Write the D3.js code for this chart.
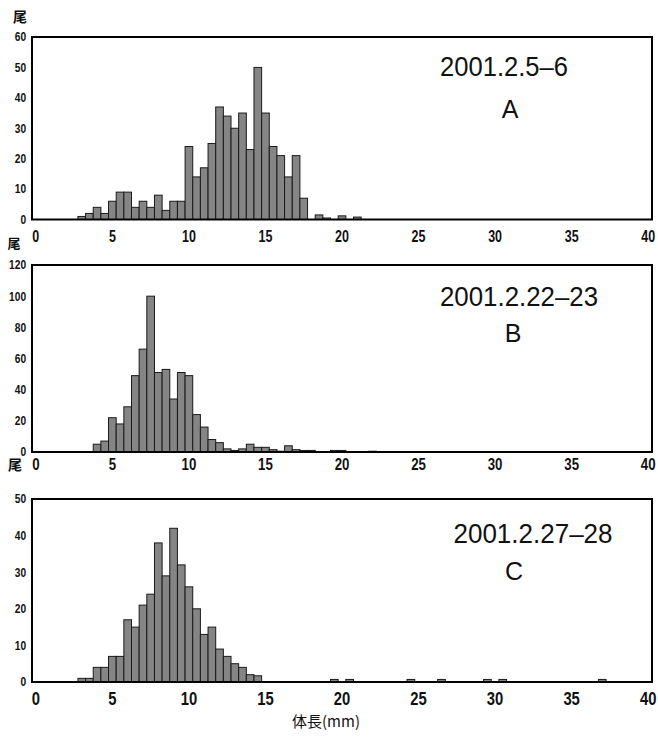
<!DOCTYPE html>
<html>
<head>
<meta charset="utf-8">
<script src="https://cdn.jsdelivr.net/npm/d3@7"></script>
<style>
  html, body { margin: 0; padding: 0; background: #fff; }
  svg { display: block; }
  .tick text { font-family: "Liberation Sans", Arial, sans-serif; font-weight: bold; fill: #111; }
  .title { font-family: "Liberation Sans", "DejaVu Sans Condensed", sans-serif; fill: #111; }
  .cjk { font-family: "Noto Sans CJK JP", "Noto Sans CJK SC", sans-serif; fill: #111; }
</style>
</head>
<body>
<svg id="chart" width="658" height="738"></svg>
<script>
// Body-length classes (mm), 0.5 mm steps
const lengths = [0,0.5,1,1.5,2,2.5,3,3.5,4,4.5,5,5.5,6,6.5,7,7.5,8,8.5,9,9.5,
  10,10.5,11,11.5,12,12.5,13,13.5,14,14.5,15,15.5,16,16.5,17,17.5,18,18.5,19,19.5,
  20,20.5,21,21.5,22,22.5,23,23.5,24,24.5,25,25.5,26,26.5,27,27.5,28,28.5,29,29.5,
  30,30.5,31,31.5,32,32.5,33,33.5,34,34.5,35,35.5,36,36.5,37,37.5,38,38.5,39,39.5,40];

// Panel A: 2001.2.5-6
const countsA = [0,0,0,0,0,0,1,2,4,2,
  6,9,9,4,6,4,8,3,6,6,
  24,14,17,25,37,34,30,35,23,50,
  35,24,21,14,21,7,0,1.5,0.5,0,
  1.2,0,0.8,0,0,0,0,0,0,0,
  0,0,0,0,0,0,0,0,0,0,
  0,0,0,0,0,0,0,0,0,0,
  0,0,0,0,0,0,0,0,0,0,0];

// Panel B: 2001.2.22-23
const countsB = [0,0,0,0,0,0,0,0,5,7,
  22,18,29,49,66,100,51,53,34,51,
  49,24,16,8,6,2,1,2,5,3,
  3,1.5,0.5,4,1.5,1,1,0,0,1,
  1,0,0,0,0.5,0,0,0,0,0,
  0,0,0,0,0,0,0,0,0,0,
  0,0,0,0,0,0,0,0,0,0,
  0,0,0,0,0,0,0,0,0,0,0];

// Panel C: 2001.2.27-28
const countsC = [0,0,0,0,0,0,1,1,4,4,
  7,7,17,15,21,24,38,29,42,32,
  26,20,13,15,9,7,5,4,2,1.7,
  0,0,0,0,0,0,0,0,0,0.7,
  0,0.7,0,0,0,0,0,0,0,0.7,
  0,0,0,0.7,0,0,0,0,0,0.7,
  0,0.7,0,0,0,0,0,0,0,0,
  0,0,0,0,0.7,0,0,0,0,0,0];

const xTickLabels = [0,5,10,15,20,25,30,35,40];
const yTicksA = [0,10,20,30,40,50,60];
const yTicksB = [0,20,40,60,80,100,120];
const yTicksC = [0,10,20,30,40,50];
const titles = ["2001.2.5–6", "2001.2.22–23", "2001.2.27–28"];
const letters = ["A", "B", "C"];
const yUnit = "尾";
const xAxisTitle = "体長(mm)";

const svg = d3.select("#chart");

const panels = [
  { counts: countsA, yTicks: yTicksA, ymax: 60, top: 37, bottom: 219.5, xPad: 11, xFont: 16, yFont: 12,
    title: titles[0], letter: letters[0], tX: 504, tY: 76, tLen: 128, lX: 510, lY: 118,
    unitX: 20, unitY: 22, unitSize: 14 },
  { counts: countsB, yTicks: yTicksB, ymax: 120, top: 265, bottom: 452, xPad: 6, xFont: 17, yFont: 12,
    title: titles[1], letter: letters[1], tX: 519, tY: 306, tLen: 158, lX: 513, lY: 342,
    unitX: 14, unitY: 248, unitSize: 13 },
  { counts: countsC, yTicks: yTicksC, ymax: 50, top: 499, bottom: 682, xPad: 10, xFont: 19, yFont: 12,
    title: titles[2], letter: letters[2], tX: 533, tY: 543, tLen: 159, lX: 514, lY: 580,
    unitX: 15, unitY: 470, unitSize: 14 }
];

const left = 32, right = 652;

const x = d3.scaleBand().domain(lengths).range([left, right]).paddingInner(0).paddingOuter(0);

panels.forEach(p => {
  const y = d3.scaleLinear().domain([0, p.ymax]).range([p.bottom, p.top]);
  const g = svg.append("g");

  // bars
  g.append("g").selectAll("rect")
    .data(lengths.map((l, i) => ({ l, v: p.counts[i] })).filter(d => d.v > 0))
    .join("rect")
    .attr("x", d => x(d.l))
    .attr("width", x.bandwidth())
    .attr("y", d => y(d.v))
    .attr("height", d => y(0) - y(d.v))
    .attr("fill", "#858585")
    .attr("stroke", "#1a1a1a")
    .attr("stroke-width", 1);

  // frame
  g.append("rect")
    .attr("x", left).attr("y", p.top)
    .attr("width", right - left).attr("height", p.bottom - p.top)
    .attr("fill", "none").attr("stroke", "#000").attr("stroke-width", 2);

  // x axis
  const xa = g.append("g")
    .attr("transform", `translate(0,${p.bottom})`)
    .call(d3.axisBottom(x).tickValues(xTickLabels).tickSize(0).tickPadding(p.xPad).tickFormat(d3.format("d")));
  xa.select(".domain").remove();
  xa.selectAll("text").style("font-size", p.xFont + "px").attr("transform", "scale(0.78,1)");

  // y axis
  const ya = g.append("g")
    .attr("transform", `translate(${left},0)`)
    .call(d3.axisLeft(y).tickValues(p.yTicks).tickSize(0).tickPadding(7).tickFormat(d3.format("d")));
  ya.select(".domain").remove();
  ya.selectAll("text").style("font-size", p.yFont + "px").attr("transform", "scale(0.85,1)");

  // unit
  g.append("text").attr("class", "cjk")
    .attr("x", p.unitX).attr("y", p.unitY)
    .attr("text-anchor", "middle")
    .style("font-size", p.unitSize + "px").style("font-weight", "bold")
    .text(yUnit);

  // titles
  g.append("text").attr("class", "title")
    .attr("x", p.tX).attr("y", p.tY)
    .attr("text-anchor", "middle")
    .attr("textLength", p.tLen).attr("lengthAdjust", "spacingAndGlyphs")
    .style("font-size", "28px")
    .text(p.title);
  g.append("text").attr("class", "title")
    .attr("x", p.lX).attr("y", p.lY)
    .attr("text-anchor", "middle")
    .style("font-size", "25px")
    .text(p.letter);
});

svg.append("text").attr("class", "cjk")
  .attr("x", 326).attr("y", 727)
  .attr("text-anchor", "middle")
  .style("font-size", "15px")
  .text(xAxisTitle);
</script>
</body>
</html>
